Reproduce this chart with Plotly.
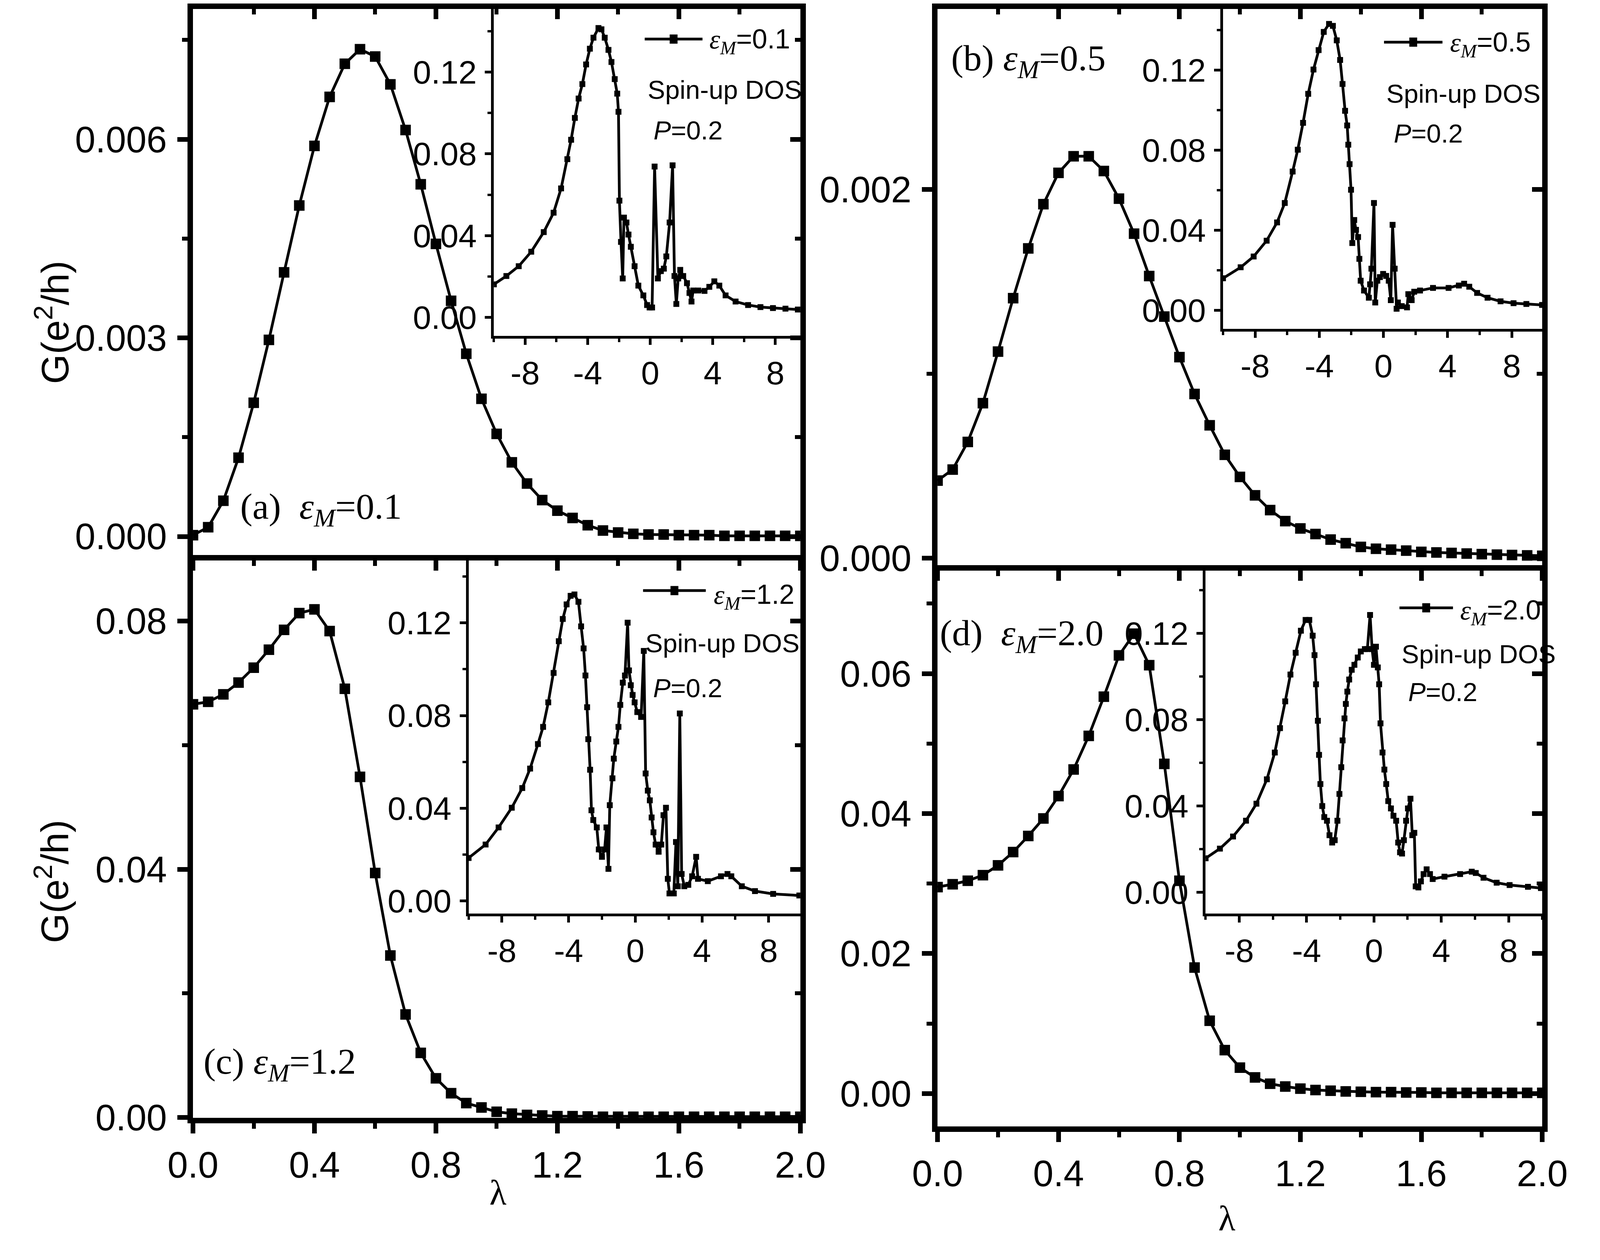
import plotly.graph_objects as go

W, H = 4700, 3226

# lambda grid of the main panels
LAMBDA = [0.0, 0.05, 0.1, 0.15, 0.2, 0.25, 0.3, 0.35, 0.4, 0.45, 0.5, 0.55, 0.6, 0.65,
          0.7, 0.75, 0.8, 0.85, 0.9, 0.95, 1.0, 1.05, 1.1, 1.15, 1.2, 1.25, 1.3, 1.35,
          1.4, 1.45, 1.5, 1.55, 1.6, 1.65, 1.7, 1.75, 1.8, 1.85, 1.9, 1.95, 2.0]

# conductance G (e^2/h), panels (a)-(d)
G_A = [0.00002, 0.00014, 0.00054, 0.00119, 0.00202, 0.00297, 0.00399, 0.00500, 0.00590,
       0.00664, 0.00714, 0.00736, 0.00725, 0.00683, 0.00614, 0.00532, 0.00442, 0.00356,
       0.00276, 0.00208, 0.00155, 0.00112, 0.00080, 0.00055, 0.00039, 0.00028, 0.00017,
       0.00009, 0.00006, 0.00004, 0.00003, 0.00003, 0.00002, 0.00002, 0.00002, 0.00001,
       0.00001, 0.00001, 0.00001, 0.00001, 0.00001]
G_B = [0.00042, 0.00048, 0.00063, 0.00084, 0.00112, 0.00141, 0.00168, 0.00192, 0.00209,
       0.00218, 0.00218, 0.00210, 0.00195, 0.00176, 0.00153, 0.00131, 0.00109, 0.00089,
       0.00072, 0.00056, 0.00044, 0.00034, 0.00026, 0.00020, 0.00016, 0.00013, 0.00010,
       0.00008, 0.00006, 0.00005, 0.000045, 0.00004, 0.000033, 0.00003, 0.000027,
       0.000024, 0.000021, 0.000018, 0.000016, 0.000014, 0.000012]
G_C = [0.0666, 0.0670, 0.0682, 0.0701, 0.0725, 0.0754, 0.0786, 0.0813, 0.0819, 0.0784,
       0.0691, 0.0549, 0.0394, 0.0261, 0.0166, 0.0104, 0.0063, 0.0039, 0.0023, 0.0016,
       0.0009, 0.0006, 0.0004, 0.0003, 0.0002, 0.0002, 0.00015, 0.0001, 0.0001, 0.0001,
       0.0001, 0.0001, 0.0001, 0.0001, 0.0001, 0.0001, 0.0001, 0.0001, 0.0001, 0.0001,
       0.0001]
G_D = [0.0295, 0.0299, 0.0304, 0.0312, 0.0326, 0.0345, 0.0368, 0.0393, 0.0425, 0.0463,
       0.0511, 0.0567, 0.0626, 0.0657, 0.0612, 0.0471, 0.0304, 0.0180, 0.0104, 0.0062,
       0.0037, 0.0023, 0.0014, 0.0010, 0.0007, 0.0005, 0.0004, 0.0003, 0.00025, 0.0002,
       0.0002, 0.00015, 0.00015, 0.0001, 0.0001, 0.0001, 0.0001, 0.0001, 0.0001, 0.0001,
       0.0001]

# spin-up DOS insets: energy and DOS
E_A = [-10, -9.2, -8.41, -7.61, -6.81, -6.18, -5.70, -5.30, -5.06, -4.82, -4.58, -4.34,
       -4.10, -3.86, -3.63, -3.31, -3.12, -2.91, -2.67, -2.48, -2.27, -2.11, -2.03, -1.97,
       -1.87, -1.76, -1.68, -1.52, -1.39, -1.24, -1.00, -0.76, -0.44, -0.20, -0.04, 0.12,
       0.28, 0.49, 0.68, 0.87, 1.03, 1.24, 1.43, 1.55, 1.67, 1.79, 1.92, 2.11, 2.35, 2.51,
       2.64, 2.75, 3.07, 3.47, 3.78, 4.10, 4.42, 4.82, 5.46, 6.26, 7.05, 7.85, 8.65, 9.44]
DOS_A = [0.0161, 0.0202, 0.0250, 0.0321, 0.0417, 0.0512, 0.0631, 0.0774, 0.0869, 0.0976,
         0.1071, 0.1142, 0.1238, 0.1315, 0.1369, 0.1416, 0.1410, 0.1369, 0.1309, 0.1250,
         0.1166, 0.1095, 0.1006, 0.0571, 0.0369, 0.0190, 0.0488, 0.0464, 0.0405, 0.0345,
         0.0250, 0.0155, 0.0107, 0.0060, 0.0048, 0.0048, 0.0738, 0.0190, 0.0226, 0.0238,
         0.0298, 0.0464, 0.0744, 0.0202, 0.0065, 0.0190, 0.0232, 0.0202, 0.0167, 0.0119,
         0.0077, 0.0131, 0.0131, 0.0129, 0.0149, 0.0176, 0.0155, 0.0107, 0.0077, 0.0060,
         0.0050, 0.0045, 0.0042, 0.0038]

E_B = [-10, -8.90, -8.09, -7.28, -6.63, -6.15, -5.66, -5.34, -5.01, -4.69, -4.36, -4.04,
       -3.72, -3.39, -3.15, -2.91, -2.70, -2.55, -2.39, -2.26, -2.19, -2.11, -2.02, -1.94,
       -1.82, -1.71, -1.58, -1.50, -1.42, -1.21, -0.91, -0.83, -0.75, -0.59, -0.51, -0.38,
       -0.22, -0.02, 0.17, 0.33, 0.46, 0.57, 0.70, 0.82, 0.90, 1.14, 1.47, 1.55, 1.76,
       1.92, 2.28, 3.09, 4.06, 4.70, 5.03, 5.35, 5.84, 6.49, 7.30, 8.11, 8.91, 9.89]
DOS_B = [0.0160, 0.0215, 0.0269, 0.0348, 0.0439, 0.0536, 0.0693, 0.0802, 0.0936, 0.1081,
         0.1202, 0.1299, 0.1390, 0.1430, 0.1420, 0.1348, 0.1250, 0.1130, 0.0996, 0.0923,
         0.0827, 0.0730, 0.0602, 0.0336, 0.0451, 0.0402, 0.0366, 0.0257, 0.0148, 0.0099,
         0.0063, 0.0130, 0.0208, 0.0536, 0.0039, 0.0148, 0.0166, 0.0182, 0.0172, 0.0148,
         0.0051, 0.0427, 0.0208, 0.0008, 0.0039, 0.0021, 0.0015, 0.0081, 0.0051, 0.0093,
         0.0099, 0.0112, 0.0112, 0.0124, 0.0133, 0.0118, 0.0087, 0.0063, 0.0045, 0.0036,
         0.0032, 0.0027]

E_C = [-10, -8.98, -8.20, -7.41, -6.78, -6.31, -5.84, -5.53, -5.22, -4.90, -4.59, -4.35,
       -4.12, -3.88, -3.65, -3.41, -3.25, -3.10, -2.99, -2.89, -2.82, -2.71, -2.63, -2.52,
       -2.31, -2.19, -2.00, -1.84, -1.73, -1.61, -1.53, -1.37, -1.29, -1.14, -1.01, -0.90,
       -0.75, -0.62, -0.46, -0.38, -0.27, -0.16, -0.04, 0.12, 0.35, 0.51, 0.62, 0.75, 0.87,
       0.98, 1.09, 1.22, 1.40, 1.56, 1.69, 1.84, 1.95, 2.05, 2.31, 2.44, 2.55, 2.67, 2.78,
       2.94, 3.18, 3.41, 3.65, 3.76, 4.35, 5.14, 5.53, 5.76, 6.39, 7.18, 8.27, 9.84]
DOS_C = [0.0185, 0.0243, 0.0317, 0.0402, 0.0487, 0.0571, 0.0677, 0.0751, 0.0857, 0.0984,
         0.1121, 0.1217, 0.1280, 0.1317, 0.1323, 0.1291, 0.1185, 0.1090, 0.0973, 0.0836,
         0.0698, 0.0566, 0.0391, 0.0349, 0.0317, 0.0222, 0.0190, 0.0222, 0.0317, 0.0138,
         0.0413, 0.0529, 0.0614, 0.0688, 0.0751, 0.0846, 0.0942, 0.0973, 0.1201, 0.0995,
         0.0931, 0.0889, 0.0857, 0.0815, 0.0794, 0.1079, 0.0550, 0.0476, 0.0434, 0.0360,
         0.0296, 0.0243, 0.0212, 0.0243, 0.0370, 0.0402, 0.0095, 0.0032, 0.0032, 0.0254,
         0.0063, 0.0809, 0.0116, 0.0063, 0.0069, 0.0106, 0.0190, 0.0095, 0.0085, 0.0106,
         0.0116, 0.0106, 0.0063, 0.0042, 0.0030, 0.0023]

E_D = [-10, -9.15, -8.37, -7.60, -6.98, -6.36, -5.89, -5.58, -5.27, -4.96, -4.65, -4.34,
       -4.06, -3.84, -3.64, -3.53, -3.44, -3.33, -3.26, -3.18, -3.07, -2.95, -2.79, -2.64,
       -2.48, -2.33, -2.17, -2.05, -1.94, -1.86, -1.75, -1.67, -1.58, -1.47, -1.32, -1.16,
       -0.96, -0.78, -0.54, -0.39, -0.23, -0.11, 0.0, 0.12, 0.23, 0.31, 0.39, 0.51, 0.62,
       0.73, 0.85, 1.01, 1.16, 1.32, 1.44, 1.55, 1.67, 1.78, 1.91, 2.02, 2.17, 2.28, 2.40,
       2.48, 2.64, 2.79, 2.95, 3.13, 3.33, 3.49, 4.19, 5.12, 5.81, 6.05, 6.51, 7.29, 8.06,
       9.15, 9.92]
DOS_D = [0.0158, 0.0203, 0.0259, 0.0332, 0.0411, 0.0524, 0.0648, 0.0761, 0.0885, 0.1009,
         0.1110, 0.1212, 0.1262, 0.1262, 0.1189, 0.1099, 0.0964, 0.0795, 0.0637, 0.0502,
         0.0400, 0.0349, 0.0332, 0.0265, 0.0231, 0.0242, 0.0332, 0.0456, 0.0580, 0.0704,
         0.0806, 0.0873, 0.0930, 0.0986, 0.1031, 0.1054, 0.1088, 0.1116, 0.1127, 0.1127,
         0.1285, 0.1127, 0.1054, 0.1138, 0.1042, 0.0964, 0.0783, 0.0648, 0.0569, 0.0502,
         0.0423, 0.0389, 0.0355, 0.0332, 0.0231, 0.0186, 0.0180, 0.0242, 0.0332, 0.0389,
         0.0434, 0.0265, 0.0276, 0.0028, 0.0023, 0.0051, 0.0085, 0.0107, 0.0085, 0.0062,
         0.0073, 0.0085, 0.0096, 0.0090, 0.0068, 0.0045, 0.0034, 0.0026, 0.0020]

EPS_M = ["0.1", "0.5", "1.2", "2.0"]
PANEL_TAGS = ["(a)  ", "(b) ", "(c) ", "(d)  "]

DOS_XTICKS = [-8, -4, 0, 4, 8]
DOS_XTICKTEXT = ["-8", "-4", "0", "4", "8"]
DOS_XMINOR = [-10, -6, -2, 2, 6, 10]
DOS_YTICKS = [0.0, 0.04, 0.08, 0.12]
DOS_YTICKTEXT = ["0.00", "0.04", "0.08", "0.12"]
DOS_YMINOR = [0.02, 0.06, 0.10, 0.14]

SANS = "Liberation Sans, Arial, sans-serif"
SERIF = "Liberation Serif, Times New Roman, serif"

MAIN_LW = 14
INSET_LW = 7


def fx(px):
    return px / W


def fy(py):
    return 1 - py / H


# frame boxes in reference pixels (line centres): (left, right, top, bottom)
MAIN_BOX = {
    "a": (494, 2358, 8, 1450),
    "b": (2762, 4618, 8, 1477),
    "c": (494, 2358, 1450, 2922),
    "d": (2762, 4618, 1477, 2944),
}
INSET_BOX = {
    "a": (1414, 2358, 8, 874),
    "b": (3635, 4618, 8, 855),
    "c": (1337, 2358, 1450, 2384),
    "d": (3582, 4618, 1477, 2384),
}
MAIN_YRANGE = {
    "a": [-0.00028, 0.00797],
    "b": [-0.00004, 0.00298],
    "c": [-0.0001, 0.0898],
    "d": [-0.0047, 0.0747],
}
MAIN_YSTEP = {"a": (0.003, 0.0015, ".3f"), "b": (0.002, 0.001, ".3f"),
              "c": (0.04, 0.02, ".2f"), "d": (0.02, 0.01, ".2f")}
INSET_XRANGE = {"a": [-10, 9.6], "b": [-10, 9.9], "c": [-10, 9.9], "d": [-10, 10.0]}
INSET_YRANGE = {"a": [-0.0092, 0.151], "b": [-0.0092, 0.1505],
                "c": [-0.0055, 0.147], "d": [-0.0098, 0.149]}

TICK_FONT = dict(family=SANS, size=94, color="black")
INSET_TICK_FONT = dict(family=SANS, size=84, color="black")

fig = go.Figure()
layout = {}

panels = ["a", "b", "c", "d"]
main_data = {"a": G_A, "b": G_B, "c": G_C, "d": G_D}
dos_data = {"a": (E_A, DOS_A), "b": (E_B, DOS_B), "c": (E_C, DOS_C), "d": (E_D, DOS_D)}

hw = MAIN_LW / 2
for i, p in enumerate(panels):
    l, r, t, b = MAIN_BOX[p]
    n = 2 * i + 1          # base axes (bottom / left)
    m = 2 * i + 2          # mirrored axes (top / right), ticks pointing in
    xd = [fx(l + hw), fx(r - hw)]
    yd = [fy(b - hw), fy(t + hw)]
    yr = MAIN_YRANGE[p]
    major, minor, fmt = MAIN_YSTEP[p]
    show_x = p in ("c", "d")

    common = dict(showline=True, linewidth=MAIN_LW, linecolor="black", tickcolor="black",
                  ticklen=26, tickwidth=12, showgrid=False, zeroline=False)
    layout[f"xaxis{n}"] = dict(
        domain=xd, range=[0, 2], anchor=f"y{n}", ticks="outside", tick0=0, dtick=0.4,
        tickformat=".1f", showticklabels=show_x, tickfont=TICK_FONT,
        minor=dict(ticks="outside", ticklen=14, tickwidth=10, tickcolor="black",
                   tick0=0, dtick=0.2),
        **common,
    )
    layout[f"yaxis{n}"] = dict(
        domain=yd, range=yr, anchor=f"x{n}", ticks="outside", tick0=0, dtick=major,
        tickformat=fmt, ticklabelstandoff=8, tickfont=TICK_FONT,
        minor=dict(ticks="outside", ticklen=14, tickwidth=10, tickcolor="black",
                   tick0=0, dtick=minor),
        **common,
    )
    layout[f"xaxis{m}"] = dict(
        overlaying=f"x{n}", side="top", range=[0, 2], anchor=f"y{n}", ticks="inside",
        tick0=0, dtick=0.4, showticklabels=False,
        minor=dict(ticks="inside", ticklen=14, tickwidth=10, tickcolor="black",
                   tick0=0, dtick=0.2),
        **common,
    )
    layout[f"yaxis{m}"] = dict(
        overlaying=f"y{n}", side="right", range=yr, anchor=f"x{n}", ticks="inside",
        tick0=0, dtick=major, showticklabels=False,
        minor=dict(ticks="inside", ticklen=14, tickwidth=10, tickcolor="black",
                   tick0=0, dtick=minor),
        **common,
    )

    fig.add_trace(go.Scatter(
        x=LAMBDA, y=main_data[p], mode="lines+markers", xaxis=f"x{n}", yaxis=f"y{n}",
        line=dict(color="black", width=7),
        marker=dict(symbol="square", size=27, color="black"),
        showlegend=False, hoverinfo="skip",
    ))
    # keeps the mirrored axes drawn
    fig.add_trace(go.Scatter(x=[None], y=[None], xaxis=f"x{m}", yaxis=f"y{m}",
                             mode="markers", showlegend=False, hoverinfo="skip"))

ihw = INSET_LW / 2
for i, p in enumerate(panels):
    l, r, t, b = INSET_BOX[p]
    k = 9 + i
    common = dict(showline=True, linewidth=INSET_LW, linecolor="black", ticks="outside",
                  ticklen=16, tickwidth=7, tickcolor="black", tickmode="array",
                  tickfont=INSET_TICK_FONT, showgrid=False, zeroline=False)
    layout[f"xaxis{k}"] = dict(
        domain=[fx(l + ihw), fx(r - hw)], range=INSET_XRANGE[p], anchor=f"y{k}",
        tickvals=DOS_XTICKS, ticktext=DOS_XTICKTEXT,
        minor=dict(ticks="outside", ticklen=9, tickwidth=6, tickcolor="black",
                   tickmode="array", tickvals=DOS_XMINOR),
        **common,
    )
    layout[f"yaxis{k}"] = dict(
        domain=[fy(b - ihw), fy(t + hw)], range=INSET_YRANGE[p], anchor=f"x{k}",
        tickvals=DOS_YTICKS, ticktext=DOS_YTICKTEXT, ticklabelstandoff=4,
        minor=dict(ticks="outside", ticklen=9, tickwidth=6, tickcolor="black",
                   tickmode="array", tickvals=DOS_YMINOR),
        **common,
    )
    e, d = dos_data[p]
    fig.add_trace(go.Scatter(
        x=e, y=d, mode="lines+markers", xaxis=f"x{k}", yaxis=f"y{k}",
        line=dict(color="black", width=7),
        marker=dict(symbol="square", size=15, color="black"),
        showlegend=False, hoverinfo="skip",
    ))

# panel labels, inset legends and texts (reference pixel positions)
eps = '<i>ε</i><sub><i>M</i></sub>'
PANEL_LABEL_POS = {"a": (643, 1322), "b": (2808, 150), "c": (531, 2774), "d": (2774, 1653)}
LEG_LINE = {"a": (1877, 2053, 94), "b": (4129, 4307, 102), "c": (1872, 2063, 1536),
            "d": (4176, 4339, 1581)}
LEG_TEXT = {"a": (2072, 100), "b": (4327, 108), "c": (2085, 1552), "d": (4359, 1593)}
SPIN_TEXT = {"a": (1883, 226), "b": (4134, 236), "c": (1877, 1673), "d": (4180, 1702)}
P_TEXT = {"a": (1902, 332), "b": (4156, 341), "c": (1900, 1791), "d": (4200, 1801)}

annotations = []
shapes = []
for i, p in enumerate(panels):
    x0, y0 = PANEL_LABEL_POS[p]
    annotations.append(dict(
        x=fx(x0), y=fy(y0), xref="paper", yref="paper", xanchor="left", yanchor="middle",
        text=PANEL_TAGS[i] + eps + "=" + EPS_M[i], showarrow=False,
        font=dict(family=SERIF, size=94, color="black"),
    ))
    lx0, lx1, ly = LEG_LINE[p]
    shapes.append(dict(type="line", xref="paper", yref="paper", x0=fx(lx0), x1=fx(lx1),
                       y0=fy(ly), y1=fy(ly), line=dict(color="black", width=7)))
    cx = (lx0 + lx1) / 2
    shapes.append(dict(type="rect", xref="paper", yref="paper", x0=fx(cx - 12),
                       x1=fx(cx + 12), y0=fy(ly + 12), y1=fy(ly - 12),
                       fillcolor="black", line=dict(width=0)))
    tx, ty = LEG_TEXT[p]
    annotations.append(dict(
        x=fx(tx), y=fy(ty), xref="paper", yref="paper", xanchor="left", yanchor="middle",
        text=f'<span style="font-family:Liberation Serif">{eps}</span>=' + EPS_M[i],
        showarrow=False, font=dict(family=SANS, size=70, color="black"),
    ))
    sx, sy = SPIN_TEXT[p]
    annotations.append(dict(
        x=fx(sx), y=fy(sy), xref="paper", yref="paper", xanchor="left", yanchor="middle",
        text="Spin-up DOS", showarrow=False,
        font=dict(family=SANS, size=67, color="black"),
    ))
    px_, py_ = P_TEXT[p]
    annotations.append(dict(
        x=fx(px_), y=fy(py_), xref="paper", yref="paper", xanchor="left", yanchor="middle",
        text="<i>P</i>=0.2", showarrow=False,
        font=dict(family=SANS, size=67, color="black"),
    ))

# axis titles
for yc in (835, 2297):
    annotations.append(dict(
        x=fx(72), y=fy(yc), xref="paper", yref="paper", xanchor="center", yanchor="middle",
        text="G(e<sup>2</sup>/h)", textangle=-90, showarrow=False,
        font=dict(family=SANS, size=98, color="black"),
    ))
for xc, yc in ((1430, 3110), (3650, 3178)):
    annotations.append(dict(
        x=fx(xc), y=fy(yc), xref="paper", yref="paper", xanchor="center", yanchor="middle",
        text="λ", showarrow=False, font=dict(family=SERIF, size=90, color="black"),
    ))

# size follows the browser window, so the whole figure is photographed
fig.update_layout(
    autosize=True,
    margin=dict(l=0, r=0, t=0, b=0, pad=0),
    paper_bgcolor="white", plot_bgcolor="rgba(0,0,0,0)",
    showlegend=False,
    annotations=annotations, shapes=shapes,
    **layout,
)

fig.write_html("out.html")
